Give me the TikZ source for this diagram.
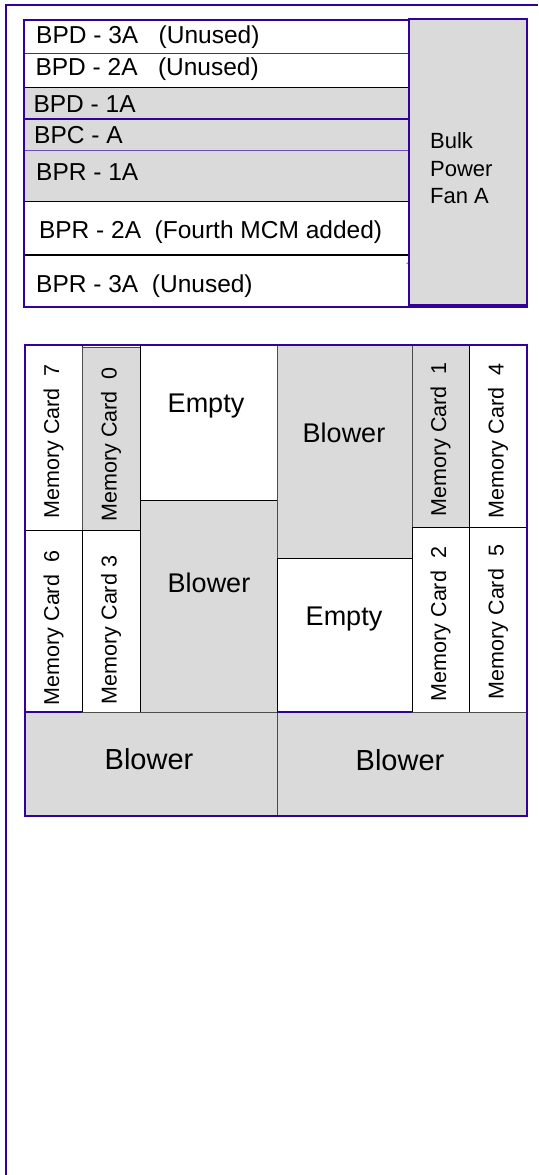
\documentclass[tikz,border=0pt]{standalone}
\usepackage{fontspec}
\setmainfont{Liberation Sans}
\definecolor{frame}{RGB}{51,0,153}
\definecolor{cellgray}{RGB}{218,218,218}
\begin{document}
\begin{tikzpicture}[x=1pt,y=-1pt,
  cell/.style={draw=black, line width=0.8pt},
  graycell/.style={cell, fill=cellgray},
  border/.style={draw=frame, line width=2pt},
  rowtxt/.style={anchor=base west, inner sep=0pt, font=\fontsize{24.5}{29}\selectfont},
  cardtxt/.style={rotate=90, inner sep=0pt, font=\fontsize{21.5}{26}\selectfont},
  bigtxt/.style={anchor=base, inner sep=0pt, font=\fontsize{27}{32}\selectfont},
  hugetxt/.style={anchor=base, inner sep=0pt, font=\fontsize{29}{34}\selectfont},
  fantxt/.style={anchor=base west, inner sep=0pt, font=\fontsize{22}{27}\selectfont}]
\useasboundingbox (0,0) rectangle (538,1175);
\fill[white] (0,0) rectangle (538,1175);
% outer frame
\draw[frame, line width=2pt] (6,1175) -- (6,5) -- (538,5);

% ---------- upper box ----------
\fill[cellgray] (24,87) rectangle (409,201);
\draw[black!75, line width=0.8pt] (24,53) -- (409,53);
\draw[black, line width=0.9pt] (24,87) -- (409,87);
\draw[frame, line width=1.6pt] (24,119) -- (409,119);
\draw[frame!70, line width=0.8pt] (24,150) -- (409,150);
\draw[black, line width=0.9pt] (24,201) -- (409,201);
\draw[black, line width=1.6pt] (24,255) -- (409,255);
\draw[border] (24,20) rectangle (527,307);
\filldraw[fill=cellgray, draw=frame, line width=1.5pt] (409,19) rectangle (527,305);
\fill[magenta!70] (407.3,263.3) circle (0.9);

\node[rowtxt] (r1) at (36,43.3) {BPD - 3A\ \ \ (Unused)};
\node[rowtxt] (r2) at (35.3,75.7) {BPD - 2A\ \ \ (Unused)};
\node[rowtxt] (r3) at (33.3,112.7) {BPD - 1A};
\node[rowtxt] (r4) at (34,143.3) {BPC - A};
\node[rowtxt] (r5) at (36,180) {BPR - 1A};
\node[rowtxt] (r6) at (38.8,238.3) {BPR - 2A\ \ (Fourth MCM added)};
\node[rowtxt] (r7) at (36,292.7) {BPR - 3A\ \ (Unused)};

\node[fantxt] (f1) at (430,148) {Bulk};
\node[fantxt] (f2) at (430,176) {Power};
\node[fantxt] (f3) at (430,203) {Fan A};

% ---------- lower box ----------
\path[cell, fill=white] (25,345) rectangle (82,530);
\path[cell, fill=white] (25,530) rectangle (82,712);
\path[graycell, draw=black!70] (82,347) rectangle (140,530);
\path[cell, fill=white] (82,530) rectangle (140,712);
\path[cell, fill=white] (140,345) rectangle (277,500);
\path[graycell] (140,500) rectangle (277,712);
\path[graycell, draw=black!70] (277,345) rectangle (412,558);
\path[cell, fill=white] (277,558) rectangle (412,712);
\path[graycell, draw=black!70] (412,345) rectangle (469,527);
\path[cell, fill=white] (469,345) rectangle (527,527);
\path[cell, fill=white] (412,527) rectangle (469,712);
\path[cell, fill=white] (469,527) rectangle (527,712);
\path[graycell, draw=black!70] (25,712) rectangle (277,816);
\path[graycell, draw=black!70] (277,712) rectangle (527,816);
\draw[frame, line width=1.6pt] (25,712) -- (82,712);
\draw[frame, line width=1.6pt] (277,712) -- (412,712);
\draw[border] (25,345) rectangle (527,816);

\node[cardtxt] (m7) at (53.5,441.5) {Memory Card\ \ 7};
\node[cardtxt] (m0) at (111,444.5) {Memory Card\ \ 0};
\node[cardtxt] (m1) at (440.5,439.5) {Memory Card\ \ 1};
\node[cardtxt] (m4) at (498,441) {Memory Card\ \ 4};
\node[cardtxt] (m6) at (53.5,628) {Memory Card\ \ 6};
\node[cardtxt] (m3) at (111,630) {Memory Card 3};
\node[cardtxt] (m2) at (440.5,624) {Memory Card\ \ 2};
\node[cardtxt] (m5) at (498,622) {Memory Card\ \ 5};

\node[bigtxt] (e1) at (206,412) {Empty};
\node[bigtxt] (b1) at (344,442) {Blower};
\node[bigtxt] (b2) at (209,592) {Blower};
\node[bigtxt] (e2) at (344,625) {Empty};
\node[hugetxt] (b3) at (149,769.3) {Blower};
\node[hugetxt] (b4) at (400,770.7) {Blower};
\end{tikzpicture}
\end{document}
